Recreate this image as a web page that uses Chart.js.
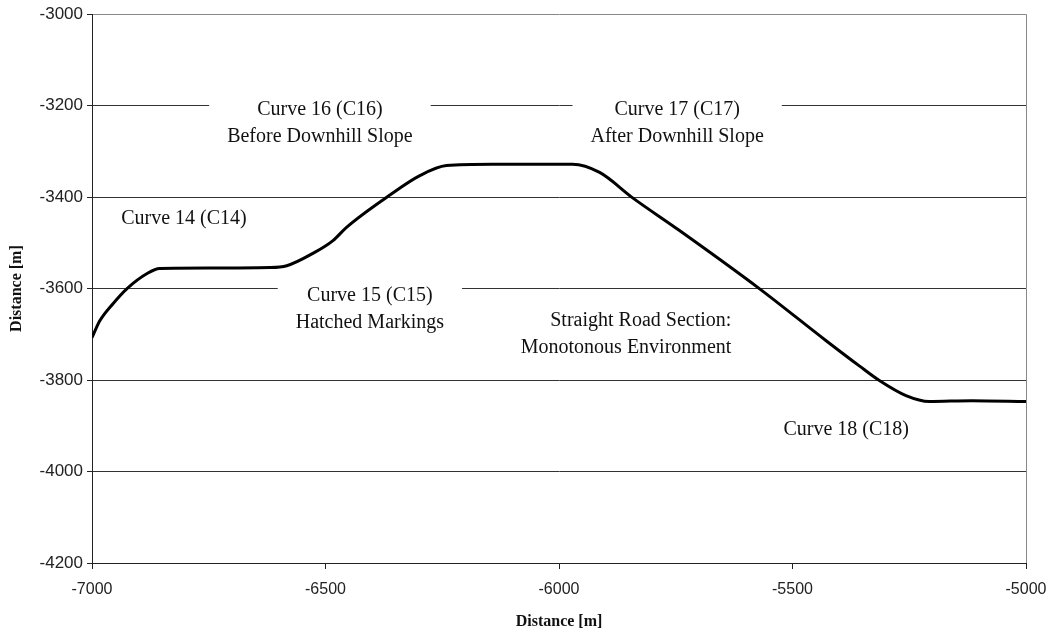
<!DOCTYPE html>
<html>
<head>
<meta charset="utf-8">
<script src="https://cdn.jsdelivr.net/npm/chart.js@4"></script>
<style>
html, body { margin: 0; padding: 0; background: #fff; }
#wrap { width: 1051px; height: 637px; }
</style>
</head>
<body>
<div id="wrap"><canvas id="road"></canvas></div>
<script>

// road course
let roadX = [-7000, -6983, -6955, -6925, -6882, -6855, -6750, -6619, -6583, -6527, -6484, -6455,
  -6363, -6298, -6241, -6142, -5971, -5913, -5843, -5742, -5571, -5428, -5357, -5314, -5257,
  -5207, -5116, -5000];
let roadY = [-3707, -3670, -3633, -3600, -3567, -3556, -3555, -3554, -3550, -3523, -3495, -3466,
  -3396, -3353, -3331, -3328, -3328, -3346, -3401, -3473, -3600, -3714, -3769, -3801, -3834,
  -3847, -3845, -3847];

let xTicks = [-7000, -6500, -6000, -5500, -5000];
let yTicks = [-3000, -3200, -3400, -3600, -3800, -4000, -4200];

// text notes on the chart
let noteText = [
  ["Curve 14 (C14)"],
  ["Curve 15 (C15)", "Hatched Markings"],
  ["Curve 16 (C16)", "Before Downhill Slope"],
  ["Curve 17 (C17)", "After Downhill Slope"],
  ["Straight Road Section:", "Monotonous Environment"],
  ["Curve 18 (C18)"]
];
let noteX = [-6803, -6405, -6512, -5747, -5631, -5385];
let noteY = [-3447, -3646, -3239, -3239, -3699, -3909];
let noteAlign = ["center", "center", "center", "center", "right", "center"];
let noteBoxed = [false, true, true, true, false, false];


let notesPlugin = {
  id: "notes",
  beforeDatasetsDraw(chart){
    let ctx = chart.ctx;
    let sx = chart.scales.x;
    let sy = chart.scales.y;
    let lineH = 27;
    ctx.save();
    ctx.font = "20px 'Liberation Serif', 'Times New Roman', serif";
    ctx.textBaseline = "middle";
    noteText.forEach((lines, i) => {
      let px = sx.getPixelForValue(noteX[i]);
      let py = sy.getPixelForValue(noteY[i]);
      let top = py - (lines.length - 1) * lineH / 2;
      if(noteBoxed[i]){
        let w = Math.max(...lines.map(t => ctx.measureText(t).width)) + 36;
        ctx.fillStyle = "#fff";
        ctx.fillRect(px - w/2, top - lineH/2 - 2, w, lines.length * lineH + 4);
      }
      ctx.fillStyle = "#111";
      ctx.textAlign = noteAlign[i];
      lines.forEach((t, j) => ctx.fillText(t, px, top + j * lineH));
    });
    ctx.restore();
  }
};


let points = roadX.map((x, i) => ({x: x, y: roadY[i]}));

let titleFont = { family: "'Liberation Serif', 'Times New Roman', serif", size: 16, weight: "bold" };

new Chart(document.getElementById("road"), {
  type: "line",
  data: {
    datasets: [{
      data: points,
      borderColor: "#000",
      borderWidth: 3,
      pointRadius: 0,
      cubicInterpolationMode: "monotone",
      fill: false
    }]
  },
  options: {
    responsive: true,
    maintainAspectRatio: false,
    animation: false,
    layout: { padding: { top: 14, right: 0, left: 0, bottom: 0 } },
    plugins: { legend: { display: false }, tooltip: { enabled: false } },
    scales: {
      x: {
        type: "linear",
        min: -7000,
        max: -5000,
        afterBuildTicks: s => { s.ticks = xTicks.map(v => ({value: v})); },
        afterFit: s => { s.height = 74; s.paddingRight = 25; },
        ticks: {
          color: "#222",
          padding: 11,
          maxRotation: 0,
          callback: v => String(v),
          font: { family: "'Liberation Sans', Arial, sans-serif", size: 16 }
        },
        grid: {
          color: c => c.tick && c.tick.value === -5000 ? "#888" : "rgba(0,0,0,0)",
          tickColor: "#222",
          tickLength: 6,
          drawOnChartArea: true
        },
        border: { color: "#222", width: 1 },
        title: {
          display: true,
          text: "Distance [m]",
          color: "#111",
          padding: { top: 4, bottom: 6 },
          font: titleFont
        }
      },
      y: {
        type: "linear",
        min: -4200,
        max: -3000,
        afterBuildTicks: s => { s.ticks = yTicks.map(v => ({value: v})); },
        afterFit: s => { s.width = 92; },
        ticks: {
          color: "#222",
          padding: 4,
          callback: v => String(v),
          font: { family: "'Liberation Sans', Arial, sans-serif", size: 17 }
        },
        grid: {
          color: c => c.tick && c.tick.value === -3000 ? "#888" : "#333",
          tickColor: "#222",
          tickLength: 5
        },
        border: { color: "#222", width: 1 },
        title: {
          display: true,
          text: "Distance [m]",
          color: "#111",
          padding: { top: 7, bottom: 0 },
          font: titleFont
        }
      }
    }
  },
  plugins: [notesPlugin]
});

</script>
</body>
</html>
